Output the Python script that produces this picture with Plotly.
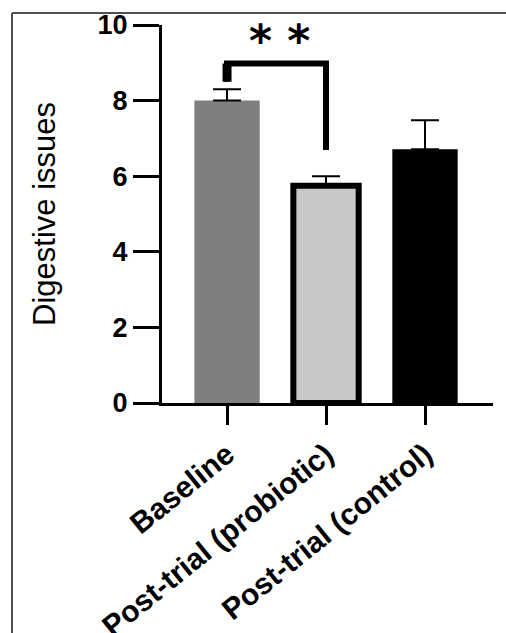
import plotly.graph_objects as go

# Group labels, mean scores and standard errors
groups = ["Baseline", "Post-trial (probiotic)", "Post-trial (control)"]
means = [8.0, 5.75, 6.71]
errors = [0.3, 0.25, 0.77]
fills = ["#7f7f7f", "#c8c8c8", "#000000"]
outline_widths = [0, 6, 0]

y_ticks = [0, 2, 4, 6, 8, 10]
significance = "* *"

x_pos = list(range(len(groups)))

fig = go.Figure()
fig.add_trace(go.Bar(
    x=x_pos,
    y=means,
    width=0.66,
    marker=dict(color=fills, line=dict(color="#000000", width=outline_widths)),
    error_y=dict(type="data", array=errors, symmetric=False, arrayminus=[0, 0, 0],
                 color="#000000", thickness=2, width=14),
    showlegend=False,
))

# Significance bracket between baseline and probiotic groups
fig.add_shape(type="path", xref="x", yref="y",
              path="M 0,8.5 L 0,8.98 L 1,8.98 L 1,6.69",
              line=dict(color="#000000", width=6))
fig.add_shape(type="line", xref="x", yref="y", x0=0, x1=0, y0=8.5, y1=8.98,
              line=dict(color="#000000", width=9))
fig.add_annotation(x=0.53, y=9.6, xref="x", yref="y", text=significance,
                   showarrow=False,
                   font=dict(family="DejaVu Sans", size=44, color="#000000", weight="bold"),
                   yanchor="middle")

# Figure frame (top and left edges)
fig.add_shape(type="line", xref="paper", yref="paper", x0=12/506, x1=1.0,
              y0=1-13/633, y1=1-13/633, line=dict(color="#505050", width=2))
fig.add_shape(type="line", xref="paper", yref="paper", x0=12/506, x1=12/506,
              y0=0, y1=1-13/633, line=dict(color="#505050", width=2))

label_font = dict(size=30, family="Liberation Sans, Arial", color="#000000", weight="bold")

fig.update_layout(
    width=506, height=633,
    margin=dict(l=0, r=0, t=0, b=0),
    paper_bgcolor="#ffffff", plot_bgcolor="#ffffff",
    font=dict(family="Liberation Sans, Arial, sans-serif", color="#000000"),
    xaxis=dict(
        domain=[162/506, 493/506],
        range=[-0.657, 2.687],
        automargin=False,
        tickmode="array", tickvals=x_pos, ticktext=groups,
        tickangle=-39,
        tickfont=label_font,
        ticks="outside", ticklen=19, tickwidth=3, tickcolor="#000000",
        showline=True, linecolor="#000000", linewidth=3,
        showgrid=False, zeroline=False,
    ),
    yaxis=dict(
        domain=[1-403/633, 1-25/633],
        range=[0, 10],
        automargin=False,
        tickmode="array", tickvals=y_ticks,
        tickfont=dict(size=27, family="Liberation Sans, Arial", color="#000000", weight="bold"),
        ticks="outside", ticklen=26, tickwidth=3, tickcolor="#000000",
        showline=True, linecolor="#000000", linewidth=3,
        showgrid=False, zeroline=False,
        title=dict(text="Digestive issues", standoff=33,
                   font=dict(size=31, family="Liberation Sans, Arial", color="#000000")),
    ),
)

fig.write_html("out.html")
